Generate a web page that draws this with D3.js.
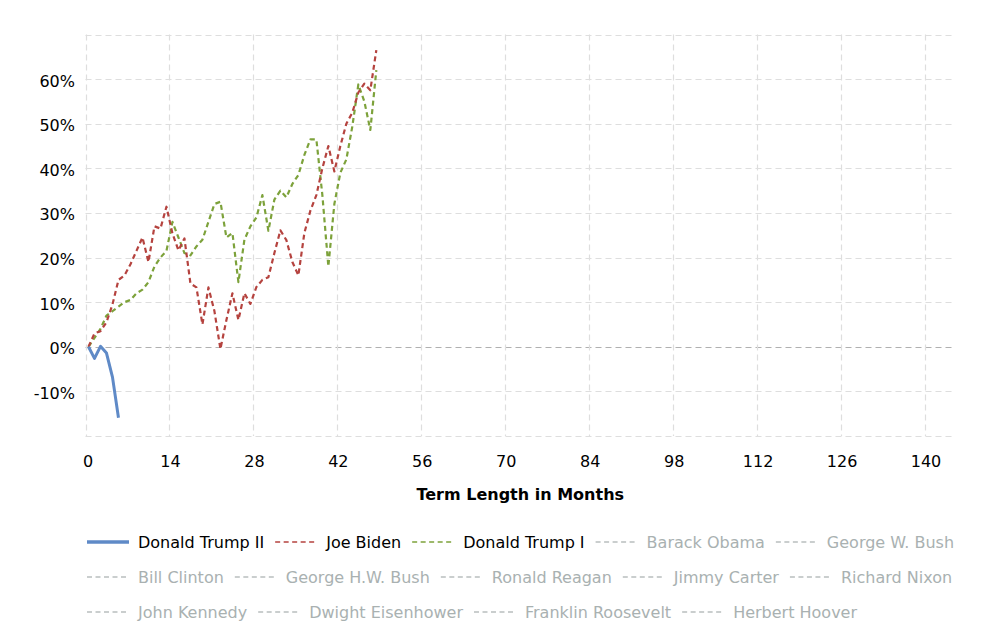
<!DOCTYPE html>
<html>
<head>
<meta charset="utf-8">
<script src="https://cdn.jsdelivr.net/npm/d3@7"></script>
<style>
  html, body { margin: 0; padding: 0; background: #fff; }
  svg { display: block; font-family: "DejaVu Sans", Verdana, sans-serif; }
</style>
</head>
<body>
<svg id="chart" width="1000" height="642"></svg>
<script>
// ---- data ----
const months = d3.range(0, 49);
const trump2 = [0, -2.6, 0.1, -1.4, -6.8, -15.9];
const biden = [0, 3, 3.5, 5.5, 9.5, 15, 16, 18.5, 21.5, 24.5, 19, 27, 26.5, 31.4,
  25.4, 21.6, 24.3, 14.2, 13.3, 5, 13.3, 8, -0.5, 6, 12, 6, 12, 9.6, 13.4, 15,
  15.6, 21, 26.1, 23.9, 19, 16, 25.5, 30.5, 34, 40, 45, 39.3, 45, 50, 52.5, 57,
  59, 57.5, 66.5];
const trump1 = [0, 2, 4, 7, 8, 9, 10, 10.5, 12, 12.8, 14.5, 18, 20, 21.5,
  28, 24.5, 21, 20.5, 22.5, 24, 28, 32, 32.5, 24.5, 25.5, 14.5, 24, 27, 29, 34,
  26, 33, 35, 33.5, 36.5, 38.5, 43, 46.5, 46.5, 34, 18, 32, 39, 42, 49.4, 58.8,
  55, 48.6, 62];
const xTicks = [0, 14, 28, 42, 56, 70, 84, 98, 112, 126, 140];
const yTicks = [-10, 0, 10, 20, 30, 40, 50, 60];
const yGrid = [-20, -10, 0, 10, 20, 30, 40, 50, 60, 70];
const xTitle = "Term Length in Months";
const legendNames = ["Donald Trump II", "Joe Biden", "Donald Trump I", "Barack Obama",
  "George W. Bush", "Bill Clinton", "George H.W. Bush", "Ronald Reagan", "Jimmy Carter",
  "Richard Nixon", "John Kennedy", "Dwight Eisenhower", "Franklin Roosevelt", "Herbert Hoover"];

(function () {
// ---- styling ----
const series = [
  { name: "Donald Trump II", values: trump2, color: "#5f8ac7", dash: null, width: 3 },
  { name: "Joe Biden", values: biden, color: "#b5433f", dash: "5,3.5", width: 2.2 },
  { name: "Donald Trump I", values: trump1, color: "#7da23b", dash: "5,3.5", width: 2.2 }
];
const inactiveColor = "#a9b1b1";

const svg = d3.select("#chart");
const pL = 85.5, pR = 955, pT = 34.5, pB = 436;
const x = d3.scaleLinear().domain([0, 140]).range([pL, 925]);
const y = d3.scaleLinear().domain([-20, 70]).range([pB, pT]);

// grid
const g = svg.append("g");
g.selectAll("line.h").data(yGrid).enter().append("line")
  .attr("x1", pL).attr("x2", pR)
  .attr("y1", d => Math.round(y(d)) + 0.5).attr("y2", d => Math.round(y(d)) + 0.5)
  .attr("stroke", d => d === 0 ? "#b0b0b0" : "#dedede")
  .attr("stroke-width", 1.2)
  .attr("stroke-dasharray", "6,4");
g.selectAll("line.v").data(xTicks).enter().append("line")
  .attr("x1", d => Math.round(x(d)) + 0.5).attr("x2", d => Math.round(x(d)) + 0.5)
  .attr("y1", pT).attr("y2", pB)
  .attr("stroke", "#dedede").attr("stroke-width", 1.2)
  .attr("stroke-dasharray", "6,4");

// axes labels
svg.append("g").selectAll("text").data(yTicks).enter().append("text")
  .attr("x", 75).attr("y", d => y(d) + 7.5)
  .attr("text-anchor", "end").attr("font-size", 16).attr("fill", "#000")
  .text(d => d + "%");
svg.append("g").selectAll("text").data(xTicks).enter().append("text")
  .attr("x", d => x(d) + (d === 0 ? 2.5 : 1)).attr("y", 467)
  .attr("text-anchor", "middle").attr("font-size", 16).attr("fill", "#000")
  .text(d => d);
svg.append("text").attr("x", (pL + pR) / 2).attr("y", 500)
  .attr("text-anchor", "middle").attr("font-size", 16).attr("font-weight", "bold")
  .attr("fill", "#000").text(xTitle);

// lines (points plotted at middle of each month cell)
const line = d3.line().x((d, i) => x(months[i] + 0.5)).y(d => y(d));
const order = [series[2], series[1], series[0]];
svg.append("g").selectAll("path").data(order).enter().append("path")
  .attr("d", d => line(d.values))
  .attr("fill", "none")
  .attr("stroke", d => d.color)
  .attr("stroke-width", d => d.width)
  .attr("stroke-dasharray", d => d.dash)
  .attr("stroke-linejoin", "round");

// legend
const lg = svg.append("g");
let lx = 87, ly = 542;
const rowH = 35, maxX = 962;
legendNames.forEach(name => {
  const s = series.find(o => o.name === name);
  const t = lg.append("text").attr("font-size", 16)
    .attr("fill", s ? "#000" : inactiveColor).text(name);
  const w = t.node().getComputedTextLength();
  if (lx + 51 + w > maxX) { lx = 87; ly += rowH; }
  t.attr("x", lx + 51).attr("y", ly + 6);
  lg.append("line")
    .attr("x1", lx).attr("x2", lx + 42).attr("y1", ly).attr("y2", ly)
    .attr("stroke", s ? s.color : "#b9bfbf")
    .attr("stroke-width", s && !s.dash ? 3.5 : 1.6)
    .attr("stroke-dasharray", s && !s.dash ? null : "5,3.5");
  lx += 51 + w + 11;
});
})();
</script>
</body>
</html>
